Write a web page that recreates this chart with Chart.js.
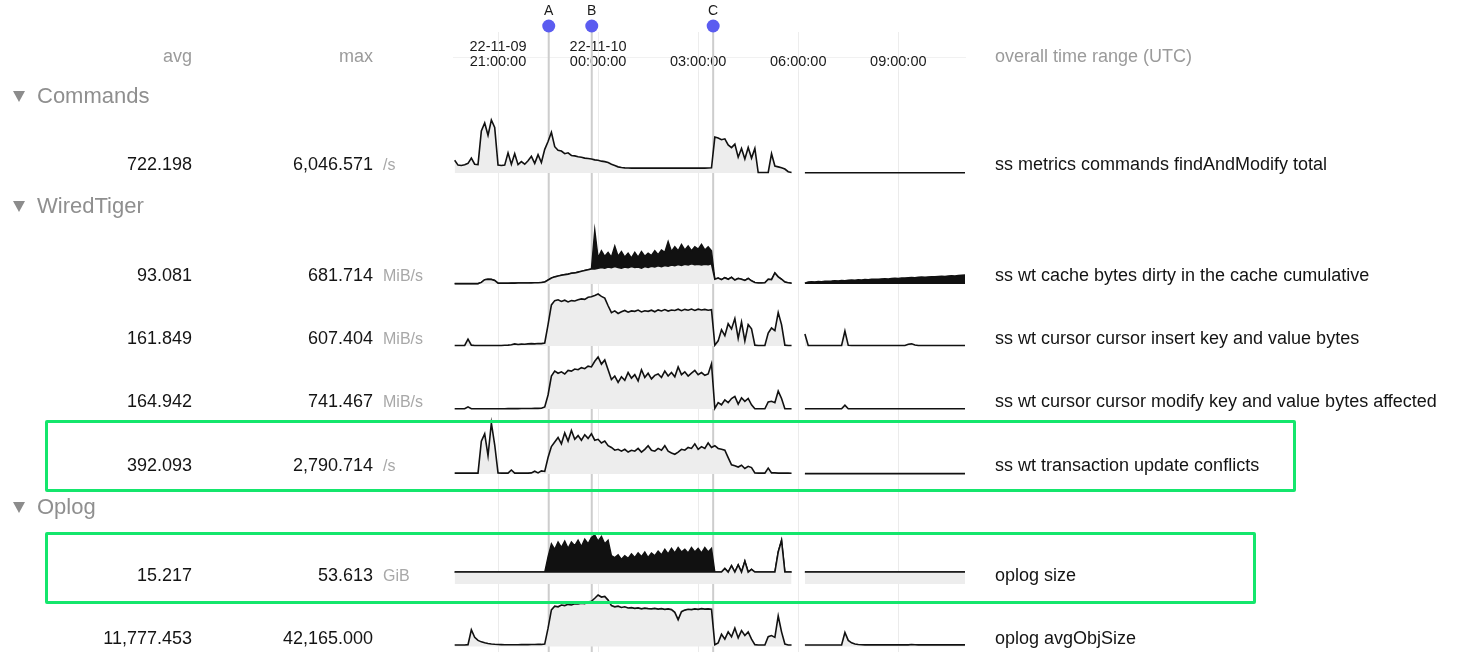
<!DOCTYPE html>
<html><head><meta charset="utf-8">
<script src="https://cdn.jsdelivr.net/npm/chart.js@4.4.1/dist/chart.umd.min.js"></script>
<style>
html,body{margin:0;padding:0;background:#fff;width:1463px;height:652px;overflow:hidden;}
#wrap{position:relative;width:1463px;height:652px;font-family:"Liberation Sans",Arial,Helvetica,sans-serif;}
#c{position:absolute;left:0;top:0;}
.t{position:absolute;white-space:nowrap;line-height:22px;height:22px;}
.box{position:absolute;border:3px solid #14e66c;border-radius:2px;box-sizing:border-box;}
.tri{position:absolute;width:0;height:0;border-left:6px solid transparent;border-right:6px solid transparent;border-top:11px solid #8c8c8c;}
</style></head>
<body><div id="wrap"><canvas id="c" width="1463" height="652"></canvas></div>
<script>
// ---------- DATA ----------
// time axis: hours relative to 22-11-10 00:00 UTC, one sample every 6 minutes
const startHour = -4.3, stepHour = 0.1, sampleCount = 154;
const tickValues = [-3, 0, 3, 6, 9];
const tickLabels = [["22-11-09", "21:00:00"], ["22-11-10", "00:00:00"], "03:00:00", "06:00:00", "09:00:00"];
const markerLabels = ["A", "B", "C"];
const markerHours = [-1.48, -0.19, 3.45];

const sectionNames = ["Commands", "WiredTiger", "Oplog"];
const rowNames = ["ss metrics commands findAndModify total", "ss wt cache bytes dirty in the cache cumulative",
  "ss wt cursor cursor insert key and value bytes", "ss wt cursor cursor modify key and value bytes affected",
  "ss wt transaction update conflicts", "oplog size", "oplog avgObjSize"];
const rowAvg = ["722.198", "93.081", "161.849", "164.942", "392.093", "15.217", "11,777.453"];
const rowMax = ["6,046.571", "681.714", "607.404", "741.467", "2,790.714", "53.613", "42,165.000"];
const rowUnits = ["/s", "MiB/s", "MiB/s", "MiB/s", "/s", "GiB", ""];

// findAndModify total (/s)
const cmdFindAndModify = [
1450,900,850,950,1100,1700,1000,950,4800,5700,
4300,6046.571,5200,900,850,900,2300,1000,2200,950,
1300,1000,1400,1900,1100,2100,1200,2700,3600,4650,
3000,2600,2500,2200,2300,2000,1950,1850,1800,1700,
1650,1600,1500,1450,1350,1300,1200,1000,850,700,
620,580,570,560,560,570,560,555,560,565,
560,560,555,560,565,560,560,555,560,560,
565,560,560,555,560,560,565,600,4100,4000,
3800,3900,3200,2900,3300,1800,2800,1600,2900,1700,
2800,50,50,50,60,2200,800,700,600,450,
150,50,null,null,null,30,30,30,30,30,
30,30,30,30,30,30,30,30,30,30,
30,30,30,30,30,30,30,30,30,30,
30,30,30,30,30,30,30,30,30,30,
30,30,30,30,30,30,30,30,30,30,
30,30,30,30];

// cache bytes dirty (MiB/s): low / high envelope of the dense samples in each 6-minute step
const wtCacheDirtyLow = [
5,5,5,5,5,5,5,5,20,55,
60,58,45,10,10,10,10,11,11,12,
12,13,13,14,15,16,18,25,50,75,
90,100,110,118,125,135,140,150,160,170,
180,190,190,200,210,200,215,205,220,210,
200,215,205,220,210,215,200,220,210,225,
215,230,220,235,225,240,230,245,235,250,
240,255,245,250,240,250,245,255,60,75,
55,80,60,85,50,70,60,45,70,40,
20,12,12,15,60,55,140,90,60,25,
15,10,null,null,null,10,10,10,10,10,
10,10,10,10,10,10,10,10,10,10,
10,10,10,10,10,10,10,10,10,10,
10,10,10,10,10,10,10,10,10,10,
10,10,10,10,10,10,10,10,10,10,
10,10,10,10];
const wtCacheDirtyHigh = [
5,5,5,5,5,5,5,5,20,55,
60,58,45,10,10,10,10,11,11,12,
12,13,13,14,15,16,18,25,50,75,
90,100,110,118,125,135,140,150,160,170,
180,190,681.714,330,420,350,400,340,480,350,
410,340,390,330,400,340,410,350,390,360,
420,370,430,400,535,410,470,420,500,430,
480,420,470,440,500,430,470,420,60,75,
55,80,60,85,50,70,60,45,70,40,
20,12,12,15,60,55,140,90,60,25,
15,10,null,null,null,10,25,28,27,31,
30,35,34,37,41,40,44,43,47,50,
48,53,52,56,55,60,62,60,65,67,
64,70,73,71,76,75,79,82,80,85,
88,86,90,92,91,96,98,95,101,104,
102,107,110,113];

// cursor insert key and value bytes (MiB/s)
const wtInsertBytes = [
6,6,6,6,80,10,6,6,6,6,
6,6,6,6,6,8,10,15,25,18,
22,20,25,28,25,30,28,35,250,480,
530,540,520,535,515,530,525,540,550,545,
570,575,590,607.404,580,560,470,390,410,380,
400,415,395,410,405,420,398,412,405,418,
400,422,410,425,408,420,415,430,412,428,
418,432,415,430,420,428,418,425,10,60,
190,120,260,200,320,90,280,60,250,200,
10,6,6,6,150,210,180,390,250,10,
6,6,null,null,null,140,6,6,6,6,
6,6,6,6,6,6,6,175,8,6,
6,6,6,6,6,6,6,6,6,6,
6,6,6,6,6,6,20,25,12,6,
6,6,6,6,6,6,6,6,6,6,
6,6,6,6];

// cursor modify key and value bytes affected (MiB/s)
const wtModifyBytes = [
3,3,3,3,30,3,3,3,3,3,
3,3,3,3,3,4,5,5,6,6,
7,7,8,8,9,9,10,30,200,470,
540,510,530,500,550,540,570,560,590,575,
610,600,680,741.467,640,700,560,420,470,380,
460,410,520,440,490,400,560,450,510,430,
480,500,450,540,470,520,460,600,490,530,
470,510,550,490,520,480,500,645,10,90,
60,130,90,150,180,70,160,110,150,60,
5,3,3,3,100,110,90,255,150,5,
3,3,null,null,null,3,3,3,3,3,
3,3,3,3,3,3,3,55,3,3,
3,3,3,3,3,3,3,3,3,3,
3,3,3,3,3,3,3,3,3,3,
3,3,3,3,3,3,3,3,3,3,
3,3,3,3];

// transaction update conflicts (/s)
const wtUpdateConflicts = [
50,50,50,50,50,50,50,50,1800,2200,
1000,2790.714,1600,60,50,50,50,220,50,50,
50,50,50,60,150,60,170,140,900,1500,
1750,2000,1650,2250,1800,2380,1900,2100,1850,2150,
1950,2200,1850,1900,1700,1800,1550,1450,1300,1350,
1250,1350,1200,1300,1250,1400,1200,1350,1550,1300,
1250,1400,1300,1550,1250,1150,1080,1200,1350,1300,
1450,1400,1650,1350,1500,1400,1700,1450,1550,1400,
1350,1300,900,500,450,380,480,300,420,350,
60,50,50,50,320,60,60,50,50,50,
50,40,null,null,null,20,20,20,20,20,
20,20,20,20,20,20,20,20,20,20,
20,20,20,20,20,20,20,20,20,20,
20,20,20,20,20,20,20,20,20,20,
20,20,20,20,20,20,20,20,20,20,
20,20,20,20];

// oplog size (GiB): low / high envelope
const oplogSizeLow = [
13.1,13.1,13.1,13.1,13.1,13.1,13.1,13.1,13.1,13.1,
13.1,13.1,13.1,13.1,13.1,13.1,13.1,13.1,13.1,13.1,
13.1,13.1,13.1,13.1,13.1,13.1,13.1,13.1,13.1,13.1,
13.1,13.1,13.1,13.1,13.1,13.1,13.1,13.1,13.1,13.1,
13.1,13.1,13.1,13.1,13.1,13.1,13.1,13.1,13.1,13.1,
13.1,13.1,13.1,13.1,13.1,13.1,13.1,13.1,13.1,13.1,
13.1,13.1,13.1,13.1,13.1,13.1,13.1,13.1,13.1,13.1,
13.1,13.1,13.1,13.1,13.1,13.1,13.1,13.1,13.1,13.1,
13.1,17,13.1,20,13.1,21,13.1,25,13.1,16,
13.1,13.1,13.1,13.1,13.1,13.1,13.1,35,47.6,13.1,
13.1,13.1,null,null,null,13.1,13.1,13.1,13.1,13.1,
13.1,13.1,13.1,13.1,13.1,13.1,13.1,13.1,13.1,13.1,
13.1,13.1,13.1,13.1,13.1,13.1,13.1,13.1,13.1,13.1,
13.1,13.1,13.1,13.1,13.1,13.1,13.1,13.1,13.1,13.1,
13.1,13.1,13.1,13.1,13.1,13.1,13.1,13.1,13.1,13.1,
13.1,13.1,13.1,13.1];
const oplogSizeHigh = [
13.1,13.1,13.1,13.1,13.1,13.1,13.1,13.1,13.1,13.1,
13.1,13.1,13.1,13.1,13.1,13.1,13.1,13.1,13.1,13.1,
13.1,13.1,13.1,13.1,13.1,13.1,13.1,13.1,30,44,
38,46,40,47,39,46,42,48,41,49,
44,51,53.613,47,52,44,48,31,29,32,
27,31,28,33,29,34,30,35,29,34,
31,36,32,38,33,39,34,40,35,38,
34,40,35,39,34,40,35,39,13.1,13.1,
13.1,17,13.1,20,13.1,21,13.1,25,13.1,16,
13.1,13.1,13.1,13.1,13.1,13.1,13.1,35,47.6,13.1,
13.1,13.1,null,null,null,13.1,13.1,13.1,13.1,13.1,
13.1,13.1,13.1,13.1,13.1,13.1,13.1,13.1,13.1,13.1,
13.1,13.1,13.1,13.1,13.1,13.1,13.1,13.1,13.1,13.1,
13.1,13.1,13.1,13.1,13.1,13.1,13.1,13.1,13.1,13.1,
13.1,13.1,13.1,13.1,13.1,13.1,13.1,13.1,13.1,13.1,
13.1,13.1,13.1,13.1];

// oplog avgObjSize
const oplogAvgObjSize = [
1200,1200,1200,1200,1500,13700,7500,5000,3800,3000,
2500,2100,1800,1600,1500,1400,1400,1400,1400,1400,
1500,1500,1500,1600,1600,1700,1700,2000,15000,30000,
33000,32500,34000,33500,34500,34000,35000,34800,35500,35000,
36500,37000,39500,42165,40500,41000,38000,33500,32500,33000,
32000,32500,31500,31800,31200,31600,30800,31400,31000,30800,
31200,30600,31000,30400,30800,30200,28000,22000,28500,29800,
30500,30200,30800,30400,31000,30600,30800,30600,1500,3000,
10000,6000,12000,8000,15000,7000,13000,9000,12000,6000,
1500,1200,1200,1200,8000,9000,7500,25000,12000,2000,
1200,1200,null,null,null,1200,1200,1200,1200,1200,
1200,1200,1200,1200,1200,1200,1200,11500,5000,3000,
2000,1600,1400,1300,1300,1300,1300,1300,1300,1300,
1300,1300,1300,1300,1300,1300,1300,1600,1400,1300,
1300,1300,1300,1300,1300,1300,1300,1300,1300,1300,
1300,1300,1300,1300];

const rowSeries = [
  [cmdFindAndModify, null],
  [wtCacheDirtyLow, wtCacheDirtyHigh],
  [wtInsertBytes, null],
  [wtModifyBytes, null],
  [wtUpdateConflicts, null],
  [oplogSizeLow, oplogSizeHigh],
  [oplogAvgObjSize, null]
];

// ---------- LAYOUT (pixels) ----------
const W = 1463, H = 652;
const plotLeft = 453, plotRight = 966, plotTop = 72;
const rowZeroPx = [173, 284, 346, 409, 474, 584, 646.5];
const rowPeakPx = [120, 230, 294, 357, 423, 535, 595];
const rowTextY = [164, 275, 338, 401, 465, 575, 638];
const sectionY = [96, 206, 507];
const headerY = 56;
const avgRight = 192, maxRight = 373, unitLeft = 383, nameLeft = 995;
const boxes = [[45, 420, 1296, 492], [45, 532, 1256, 604]];
const FONT = '"Liberation Sans", Arial, Helvetica, sans-serif';

// ---------- TEXT ----------
const wrap = document.getElementById('wrap');
function txt(s, x, y, size, color, right) {
  const d = document.createElement('div');
  d.className = 't';
  d.textContent = s;
  d.style.fontSize = size + 'px';
  d.style.color = color;
  d.style.top = (y - 11) + 'px';
  if (right) d.style.right = (W - x) + 'px'; else d.style.left = x + 'px';
  wrap.appendChild(d);
}
txt('avg', avgRight, headerY, 18, '#9b9b9b', true);
txt('max', maxRight, headerY, 18, '#9b9b9b', true);
txt('overall time range (UTC)', nameLeft, headerY, 18, '#9b9b9b', false);
sectionNames.forEach((s, i) => {
  const tr = document.createElement('div');
  tr.className = 'tri';
  tr.style.left = '13px';
  tr.style.top = (sectionY[i] - 5) + 'px';
  wrap.appendChild(tr);
  txt(s, 37, sectionY[i], 22, '#8f8f8f', false);
});
rowNames.forEach((n, i) => {
  txt(rowAvg[i], avgRight, rowTextY[i], 18, '#141414', true);
  txt(rowMax[i], maxRight, rowTextY[i], 18, '#141414', true);
  if (rowUnits[i]) txt(rowUnits[i], unitLeft, rowTextY[i] + 1, 16, '#a8a8a8', false);
  txt(n, nameLeft, rowTextY[i], 18, '#141414', false);
});
boxes.forEach(b => {
  const d = document.createElement('div');
  d.className = 'box';
  d.style.left = b[0] + 'px'; d.style.top = b[1] + 'px';
  d.style.width = (b[2] - b[0]) + 'px'; d.style.height = (b[3] - b[1]) + 'px';
  wrap.appendChild(d);
});

// ---------- CHART ----------
const hours = [];
for (let i = 0; i < sampleCount; i++) hours.push(+(startHour + stepHour * i).toFixed(2));

const areaH = H - plotTop;
const scales = {
  x: {
    type: 'linear', position: 'top', min: -4.35, max: 11.03,
    afterBuildTicks: s => { s.ticks = tickValues.map(v => ({ value: v })); },
    afterFit: s => { s.height = plotTop; },
    ticks: { autoSkip: false, maxRotation: 0, padding: 2, color: '#1a1a1a',
      font: { size: 14.5, family: FONT, lineHeight: 1.05 },
      callback: (v, i) => tickLabels[i] },
    grid: { color: '#ebebeb', drawTicks: false, lineWidth: 1 },
    border: { display: false }
  }
};
const datasets = [];
rowSeries.forEach(([lo, hi], i) => {
  const all = (hi || lo).filter(v => v !== null);
  const peak = Math.max(...all);
  const per = peak / (rowZeroPx[i] - rowPeakPx[i]);
  const mn = -per * (H - rowZeroPx[i]);
  scales['y' + i] = { type: 'linear', display: false, min: mn, max: mn + per * areaH };
  const loIndex = datasets.length;
  datasets.push({
    label: rowNames[i], data: lo, yAxisID: 'y' + i,
    borderColor: '#111', borderWidth: 1.6,
    backgroundColor: '#ededed', fill: 'origin',
    pointRadius: 0, tension: 0, spanGaps: false
  });
  if (hi) {
    datasets.push({
      label: rowNames[i] + ' (high)', data: hi, yAxisID: 'y' + i,
      borderColor: '#111', borderWidth: 1.4,
      backgroundColor: '#111', fill: loIndex,
      pointRadius: 0, tension: 0, spanGaps: false
    });
  }
});

const overlay = {
  id: 'overlay',
  beforeDraw(chart) {
    const { ctx, chartArea: a, scales: { x } } = chart;
    ctx.save();
    ctx.strokeStyle = '#ededed'; ctx.lineWidth = 1;
    tickValues.forEach(v => {
      const px = Math.round(x.getPixelForValue(v)) + 0.5;
      ctx.beginPath(); ctx.moveTo(px, 32); ctx.lineTo(px, a.top); ctx.stroke();
    });
    ctx.strokeStyle = '#f1f1f1';
    ctx.beginPath(); ctx.moveTo(a.left, 57.5); ctx.lineTo(a.right, 57.5); ctx.stroke();
    ctx.restore();
  },
  beforeDatasetsDraw(chart) {
    const { ctx, scales: { x } } = chart;
    ctx.save();
    ctx.strokeStyle = '#cdcdcd'; ctx.lineWidth = 2;
    markerHours.forEach(h => {
      const px = x.getPixelForValue(h);
      ctx.beginPath(); ctx.moveTo(px, 26); ctx.lineTo(px, H); ctx.stroke();
    });
    ctx.restore();
  },
  afterDraw(chart) {
    const { ctx, scales: { x } } = chart;
    ctx.save();
    markerHours.forEach((h, i) => {
      const px = x.getPixelForValue(h);
      ctx.fillStyle = '#5b5cf0';
      ctx.beginPath(); ctx.arc(px, 26, 6.5, 0, Math.PI * 2); ctx.fill();
      ctx.fillStyle = '#1a1a1a';
      ctx.font = '14px ' + FONT;
      ctx.textAlign = 'center'; ctx.textBaseline = 'middle';
      ctx.fillText(markerLabels[i], px, 11);
    });
    ctx.restore();
  }
};

new Chart(document.getElementById('c'), {
  type: 'line',
  data: { labels: hours, datasets },
  options: {
    responsive: false, animation: false, devicePixelRatio: 1, events: [],
    layout: { padding: { left: plotLeft, right: W - plotRight, top: 0, bottom: 0 } },
    plugins: { legend: { display: false }, tooltip: { enabled: false } },
    scales
  },
  plugins: [overlay]
});
</script></body></html>
